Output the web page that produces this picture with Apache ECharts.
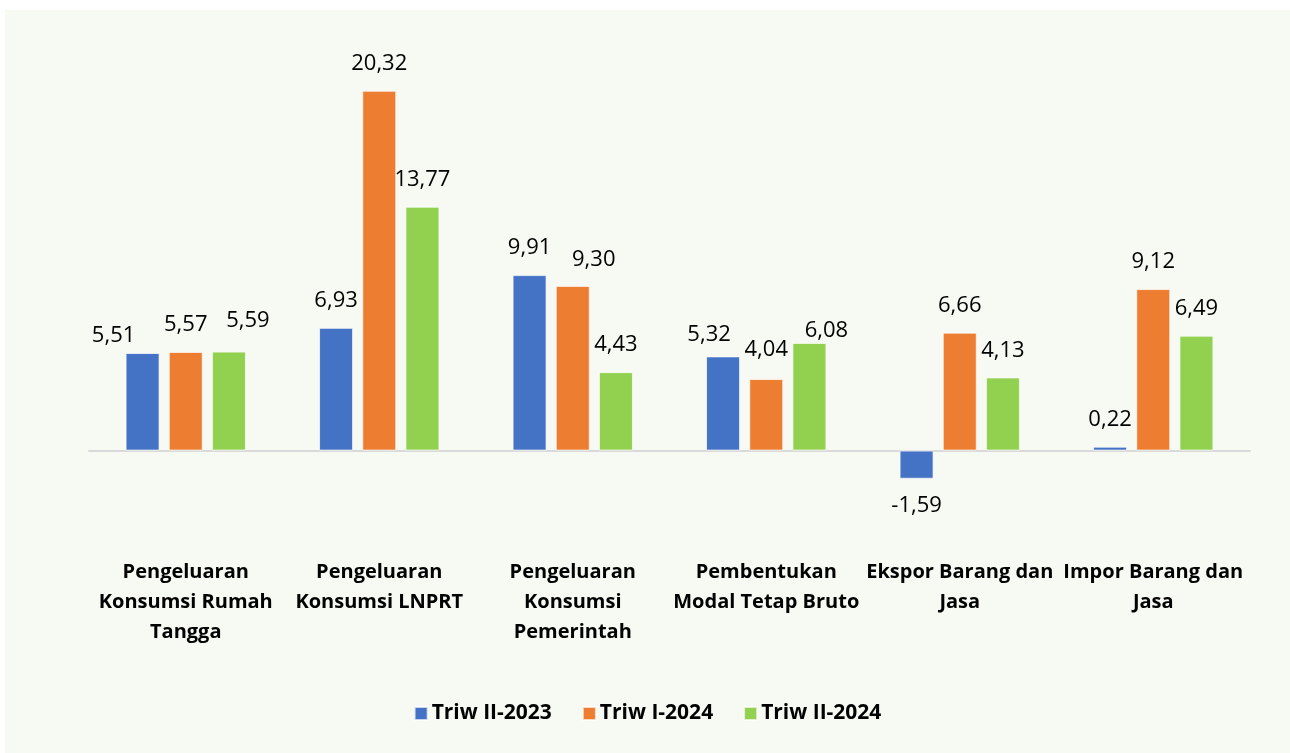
<!DOCTYPE html>
<html>
<head>
<meta charset="utf-8">
<script src="https://cdn.jsdelivr.net/npm/echarts@6/dist/echarts.min.js"></script>
<style>
  html, body { margin: 0; padding: 0; background: #ffffff; width: 1290px; height: 753px; overflow: hidden; }
  #chart { position: absolute; left: 5px; top: 10px; width: 1285px; height: 743px; }
</style>
</head>
<body>
<div id="chart"></div>
<script>
const categories = [
  "Pengeluaran\nKonsumsi Rumah\nTangga",
  "Pengeluaran\nKonsumsi LNPRT",
  "Pengeluaran\nKonsumsi\nPemerintah",
  "Pembentukan\nModal Tetap Bruto",
  "Ekspor Barang dan\nJasa",
  "Impor Barang dan\nJasa"
];
const seriesNames = ["Triw II-2023", "Triw I-2024", "Triw II-2024"];
const triwII2023 = [5.51, 6.93, 9.91, 5.32, -1.59, 0.22];
const triwI2024  = [5.57, 20.32, 9.30, 4.04, 6.66, 9.12];
const triwII2024 = [5.59, 13.77, 4.43, 6.08, 4.13, 6.49];
const colors = ["#4472C4", "#ED7D31", "#92D050"];

// label nudges (series index -> category index -> [dx, dy])
const labelNudge = {
  0: { 0: [-29, 10], 3: [-14, 5] },
  1: { 2: [21, 1], 3: [0, -2] },
  2: { 0: [19, -4], 3: [17, 15] }
};

const fmt = v => v.toFixed(2).replace('.', ',');

function buildData(values, si) {
  return values.map((v, ci) => {
    const item = { value: v };
    const lab = {};
    if (v < 0) lab.position = 'bottom';
    const n = labelNudge[si] && labelNudge[si][ci];
    if (n) lab.offset = n;
    if (Object.keys(lab).length) item.label = lab;
    return item;
  });
}

const allValues = [triwII2023, triwI2024, triwII2024];
const series = allValues.map((vals, si) => ({
  name: seriesNames[si],
  type: 'bar',
  barWidth: 34,
  barGap: '27%',
  data: buildData(vals, si),
  itemStyle: { color: colors[si], borderColor: 'rgba(255,255,255,0.7)', borderWidth: 1 },
  label: {
    show: true,
    position: 'top',
    distance: 16,
    color: '#000000',
    fontFamily: 'Open Sans',
    fontSize: 22,
    formatter: p => fmt(p.value)
  },
  emphasis: { disabled: true }
}));

const chart = echarts.init(document.getElementById('chart'), null, { renderer: 'canvas' });
chart.setOption({
  backgroundColor: '#F7F9F3',
  animation: false,
  color: colors,
  grid: { left: 84, right: 40, top: 51, bottom: 267, containLabel: false },
  legend: {
    data: seriesNames,
    top: 688,
    left: 'center',
    itemWidth: 13,
    itemHeight: 13,
    itemGap: 30,
    icon: 'rect',
    textStyle: { fontFamily: 'Open Sans', fontWeight: 'bold', fontSize: 21, color: '#000000', padding: [0, 0, 0, -1] }
  },
  xAxis: {
    type: 'category',
    data: categories,
    axisLine: { show: true, onZero: true, lineStyle: { color: '#D9D9D9', width: 2 } },
    axisTick: { show: false },
    axisLabel: {
      interval: 0,
      margin: 71,
      verticalAlign: 'top',
      fontFamily: 'Open Sans',
      fontWeight: 'bold',
      fontSize: 20,
      lineHeight: 30,
      color: '#000000',
      align: 'center'
    }
  },
  yAxis: {
    type: 'value',
    min: -2,
    max: 22,
    interval: 2,
    show: false,
    splitLine: { show: false }
  },
  series: series
});
</script>
</body>
</html>
